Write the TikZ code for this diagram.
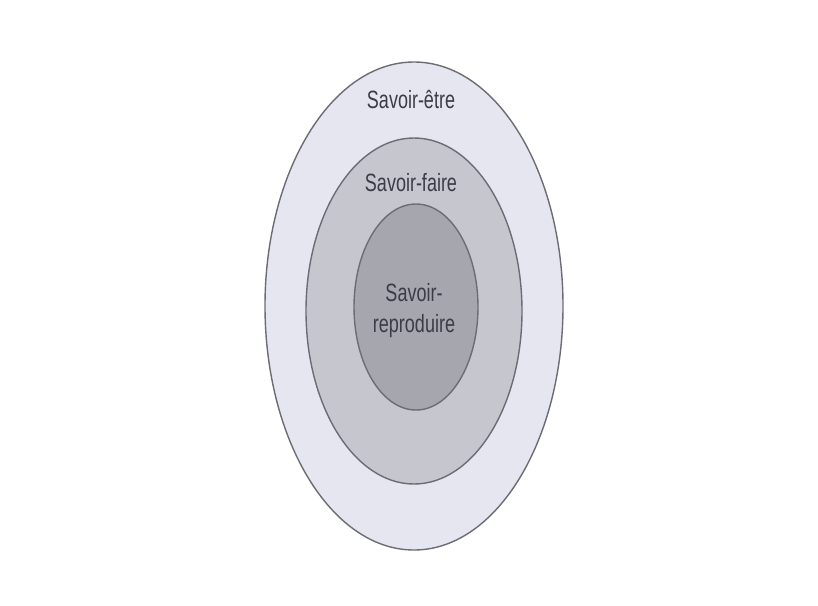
\documentclass[tikz,border=0pt]{standalone}
\usepackage{fontspec}
\usetikzlibrary{shapes.geometric}
\newfontfamily\condfont[FakeStretch=0.72]{Liberation Sans}
\definecolor{ringA}{HTML}{E6E6F0}
\definecolor{ringB}{HTML}{C6C6CE}
\definecolor{ringC}{HTML}{A6A6AE}
\definecolor{edgegray}{HTML}{6C6C74}
\definecolor{txtgray}{HTML}{3C3C46}
\tikzset{
  ring/.style={ellipse, draw=edgegray, line width=1.4pt, inner sep=0pt},
  lbl/.style={text=txtgray, font=\condfont\fontsize{25}{31}\selectfont, align=center, inner sep=0pt}
}
\begin{document}
\begin{tikzpicture}[x=1pt,y=-1pt]
\useasboundingbox (0,0) rectangle (818,605);
\fill[white] (0,0) rectangle (818,605);
\node[ring, fill=ringA, minimum width=298pt, minimum height=488pt] (outer) at (414,306) {};
\node[ring, fill=ringB, minimum width=216pt, minimum height=346pt] (middle) at (414,311) {};
\node[ring, fill=ringC, minimum width=124pt, minimum height=206pt] (inner) at (416,307) {};
\node[lbl, anchor=base] (etre) at (411,108) {Savoir-être};
\node[lbl, anchor=base] (faire) at (411,191) {Savoir-faire};
\node[lbl, anchor=base] (repro1) at (414,301) {Savoir-};
\node[lbl, anchor=base] (repro2) at (414,332) {reproduire};
\end{tikzpicture}
\end{document}
